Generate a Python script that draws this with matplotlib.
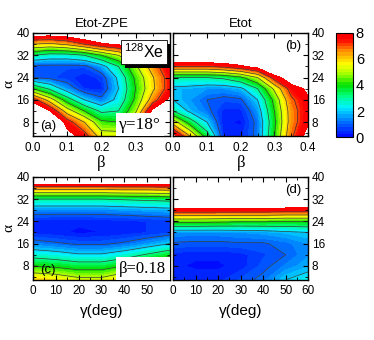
import numpy as np
import matplotlib
matplotlib.use("Agg")
import matplotlib.pyplot as plt
from matplotlib.colors import LinearSegmentedColormap
from matplotlib import patheffects
from matplotlib.ticker import MultipleLocator

plt.rcParams['font.family'] = ['Liberation Sans', 'DejaVu Sans']
plt.rcParams['mathtext.fontset'] = 'custom'
plt.rcParams['mathtext.rm'] = 'Liberation Sans'
plt.rcParams['mathtext.default'] = 'regular'

# grids
beta_vals = [0.0, 0.05, 0.1, 0.15, 0.2, 0.25, 0.3, 0.35, 0.4]
gamma_vals = [0, 10, 20, 30, 40, 50, 60]
alpha_vals = [3, 8, 12, 16, 20, 24, 28, 32, 36, 40]

# (a) Etot-ZPE at gamma=18 deg, one list per beta column (alpha from 3 up to 40)
ezpe_beta = [
    [12.0, 11.0, 10.0, 7.5, 4.0, 1.0, 0.8, 3.0, 6.0, 8.8],
    [11.0, 10.0, 8.0, 5.5, 2.8, 0.8, 0.8, 2.6, 5.8, 8.8],
    [8.5, 7.5, 5.5, 3.5, 1.5, 0.6, 0.8, 2.6, 6.2, 9.0],
    [7.5, 6.0, 4.0, 2.0, 0.5, 0.3, 0.8, 3.0, 7.0, 9.5],
    [5.5, 4.2, 2.8, 1.2, 0.4, 0.6, 1.6, 4.0, 7.8, 10.0],
    [5.5, 4.0, 3.0, 2.3, 2.0, 2.2, 3.0, 5.0, 8.2, 10.5],
    [8.0, 6.0, 4.8, 4.2, 4.0, 4.2, 4.8, 6.5, 9.0, 11.0],
    [11.0, 10.0, 8.3, 6.5, 5.8, 5.9, 6.5, 8.0, 10.0, 12.0],
    [12.0, 11.0, 10.0, 8.3, 7.5, 7.5, 7.9, 9.5, 11.0, 13.0],
]

# (b) Etot, same layout
etot_beta = [
    [8.5, 5.5, 3.0, 2.0, 1.8, 3.0, 7.0, 10.0, 12.0, 14.0],
    [6.0, 3.5, 1.8, 1.5, 1.7, 3.0, 7.0, 10.0, 12.0, 14.0],
    [3.5, 2.0, 1.2, 1.0, 1.5, 3.0, 7.0, 10.0, 12.0, 14.0],
    [0.4, 0.3, 0.4, 0.8, 1.5, 3.2, 7.3, 10.0, 12.0, 14.0],
    [0.4, 0.2, 0.4, 0.9, 1.8, 3.8, 7.8, 10.0, 12.0, 14.0],
    [1.2, 1.2, 1.5, 2.0, 3.0, 5.0, 8.5, 11.0, 13.0, 15.0],
    [4.0, 3.8, 4.0, 4.3, 5.2, 7.5, 10.0, 12.0, 14.0, 16.0],
    [6.8, 6.5, 6.5, 6.8, 7.5, 8.8, 11.0, 13.0, 15.0, 17.0],
    [8.5, 7.9, 7.8, 7.9, 8.2, 10.0, 12.0, 14.0, 16.0, 18.0],
]

# (c) Etot-ZPE at beta=0.18, one list per gamma column
ezpe_gamma = [
    [6.0, 4.0, 2.6, 1.3, 0.4, 0.4, 1.4, 3.0, 6.5, 11.0],
    [5.8, 3.8, 2.4, 1.1, 0.3, 0.3, 1.4, 3.0, 6.5, 11.0],
    [5.3, 3.5, 2.1, 0.9, 0.2, 0.3, 1.4, 3.0, 6.5, 11.0],
    [5.3, 3.5, 2.1, 0.9, 0.25, 0.35, 1.4, 3.0, 6.5, 11.0],
    [6.0, 4.0, 2.5, 1.1, 0.35, 0.4, 1.5, 3.1, 6.6, 11.0],
    [7.0, 4.8, 3.1, 1.5, 0.5, 0.5, 1.6, 3.2, 6.6, 11.0],
    [8.0, 5.6, 3.7, 2.0, 0.7, 0.6, 1.7, 3.3, 6.7, 11.0],
]

# (d) Etot at beta=0.18
etot_gamma = [
    [0.5, 0.3, 0.4, 0.95, 1.4, 4.3, 7.6, 10.0, 12.0, 14.0],
    [0.4, 0.2, 0.3, 0.9, 1.4, 4.3, 7.6, 10.0, 12.0, 14.0],
    [0.4, 0.2, 0.3, 0.9, 1.4, 4.2, 7.6, 10.0, 12.0, 14.0],
    [0.8, 0.35, 0.4, 0.95, 1.5, 4.1, 7.6, 10.0, 12.0, 14.0],
    [1.15, 0.85, 0.7, 0.95, 1.6, 4.1, 7.6, 10.0, 12.0, 14.0],
    [2.0, 1.3, 1.0, 1.15, 1.8, 4.0, 7.5, 10.0, 12.0, 14.0],
    [2.4, 1.7, 1.45, 1.5, 2.0, 4.0, 7.5, 10.0, 12.0, 14.0],
]

# blue -> cyan -> green -> yellow -> red
cmap = LinearSegmentedColormap.from_list("rb", [
    (0.0, (0.0, 0.0, 1.0)),
    (0.15, (0.0, 0.45, 1.0)),
    (0.29, (0.0, 0.95, 1.0)),
    (0.4, (0.0, 1.0, 0.5)),
    (0.5, (0.0, 0.88, 0.0)),
    (0.6, (0.6, 1.0, 0.0)),
    (0.7, (1.0, 1.0, 0.0)),
    (0.83, (1.0, 0.55, 0.0)),
    (0.94, (1.0, 0.0, 0.0)),
    (1.0, (1.0, 0.0, 0.0)),
])
fill_levels = np.arange(0, 8.01, 0.25)
line_levels = np.arange(1, 8, 1)

fig = plt.figure(figsize=(3.74, 3.40), dpi=100)
ax_a = fig.add_axes([0.088, 0.600, 0.366, 0.303])
ax_b = fig.add_axes([0.463, 0.600, 0.361, 0.303])
ax_c = fig.add_axes([0.088, 0.177, 0.366, 0.303])
ax_d = fig.add_axes([0.463, 0.177, 0.361, 0.303])
cax = fig.add_axes([0.898, 0.597, 0.046, 0.306])


def draw(ax, x, z):
    zz = np.array(z).T  # rows = alpha, cols = x
    cf = ax.contourf(x, alpha_vals, zz, levels=fill_levels, cmap=cmap)
    ax.contour(x, alpha_vals, zz, levels=line_levels, colors='#3a3a3a', linewidths=0.5)
    ax.set_ylim(3, 40)
    ax.yaxis.set_major_locator(MultipleLocator(8))
    ax.yaxis.set_minor_locator(MultipleLocator(4))
    ax.tick_params(which='both', direction='in', top=True, right=True, labelsize=8.5)
    ax.tick_params(axis='x', pad=4)
    ax.tick_params(axis='y', pad=2.5)
    ax.tick_params(which='major', length=3.5)
    ax.tick_params(which='minor', length=2)
    for s in ax.spines.values():
        s.set_linewidth(1.0)
    return cf


cf = draw(ax_a, beta_vals, ezpe_beta)
draw(ax_b, beta_vals, etot_beta)
draw(ax_c, gamma_vals, ezpe_gamma)
draw(ax_d, gamma_vals, etot_gamma)

for ax in (ax_a, ax_b):
    ax.set_xlim(0, 0.4)
    ax.xaxis.set_major_locator(MultipleLocator(0.1))
    ax.xaxis.set_minor_locator(MultipleLocator(0.05))
    ax.set_xticks([0, 0.1, 0.2, 0.3, 0.4])
    ax.set_xticklabels(['0.0', '0.1', '0.2', '0.3', '0.4'])
    ax.set_xlabel('β', family='Liberation Serif', fontsize=12, labelpad=1)
for ax in (ax_c, ax_d):
    ax.set_xlim(0, 60)
    ax.xaxis.set_major_locator(MultipleLocator(10))
    ax.xaxis.set_minor_locator(MultipleLocator(5))
    ax.set_xlabel('γ(deg)', fontsize=11, labelpad=5)
ax_a.set_xticklabels(['0.0', '0.1', '0.2', '0.3', ''])
ax_c.set_xticks([0, 10, 20, 30, 40, 50])

# left column: labels on the left, right column: labels on the right
for ax in (ax_a, ax_c):
    ax.set_ylabel('α', family='Liberation Serif', fontsize=11)
    ax.yaxis.set_label_coords(-0.125, 0.5)
for ax in (ax_b, ax_d):
    ax.tick_params(axis='y', labelleft=False, labelright=True)

ax_a.set_title('Etot-ZPE', fontsize=9.5, pad=4)
ax_b.set_title('Etot', fontsize=9.5, pad=4)

# panel tags
ax_a.text(0.05, 0.07, '(a)', transform=ax_a.transAxes, fontsize=9.5)
ax_b.text(0.83, 0.84, '(b)', transform=ax_b.transAxes, fontsize=9.5)
ax_c.text(0.05, 0.07, '(c)', transform=ax_c.transAxes, fontsize=9.5)
ax_d.text(0.83, 0.84, '(d)', transform=ax_d.transAxes, fontsize=9.5)

# nucleus label with drop shadow
t = ax_a.text(0.665, 0.755, '$^{128}$Xe', transform=ax_a.transAxes, fontsize=11.5,
              bbox=dict(facecolor='white', edgecolor='black', linewidth=0.6, pad=2.0))
t.get_bbox_patch().set_path_effects([
    patheffects.SimplePatchShadow(offset=(3, -3), shadow_rgbFace='black', alpha=1.0),
    patheffects.Normal()])

ax_a.text(0.63, 0.07, 'γ=18°', transform=ax_a.transAxes, fontsize=12.5,
          family='Liberation Serif',
          bbox=dict(facecolor='white', edgecolor='none', pad=2.5))
ax_c.text(0.63, 0.07, 'β=0.18', transform=ax_c.transAxes, fontsize=12,
          family='Liberation Serif',
          bbox=dict(facecolor='white', edgecolor='none', pad=2.5))

cb = fig.colorbar(cf, cax=cax, ticks=[0, 2, 4, 6, 8])
cb.ax.tick_params(labelsize=10.5, length=0, pad=2)
cb.outline.set_linewidth(0.8)

fig.savefig('out.png', dpi=100)
